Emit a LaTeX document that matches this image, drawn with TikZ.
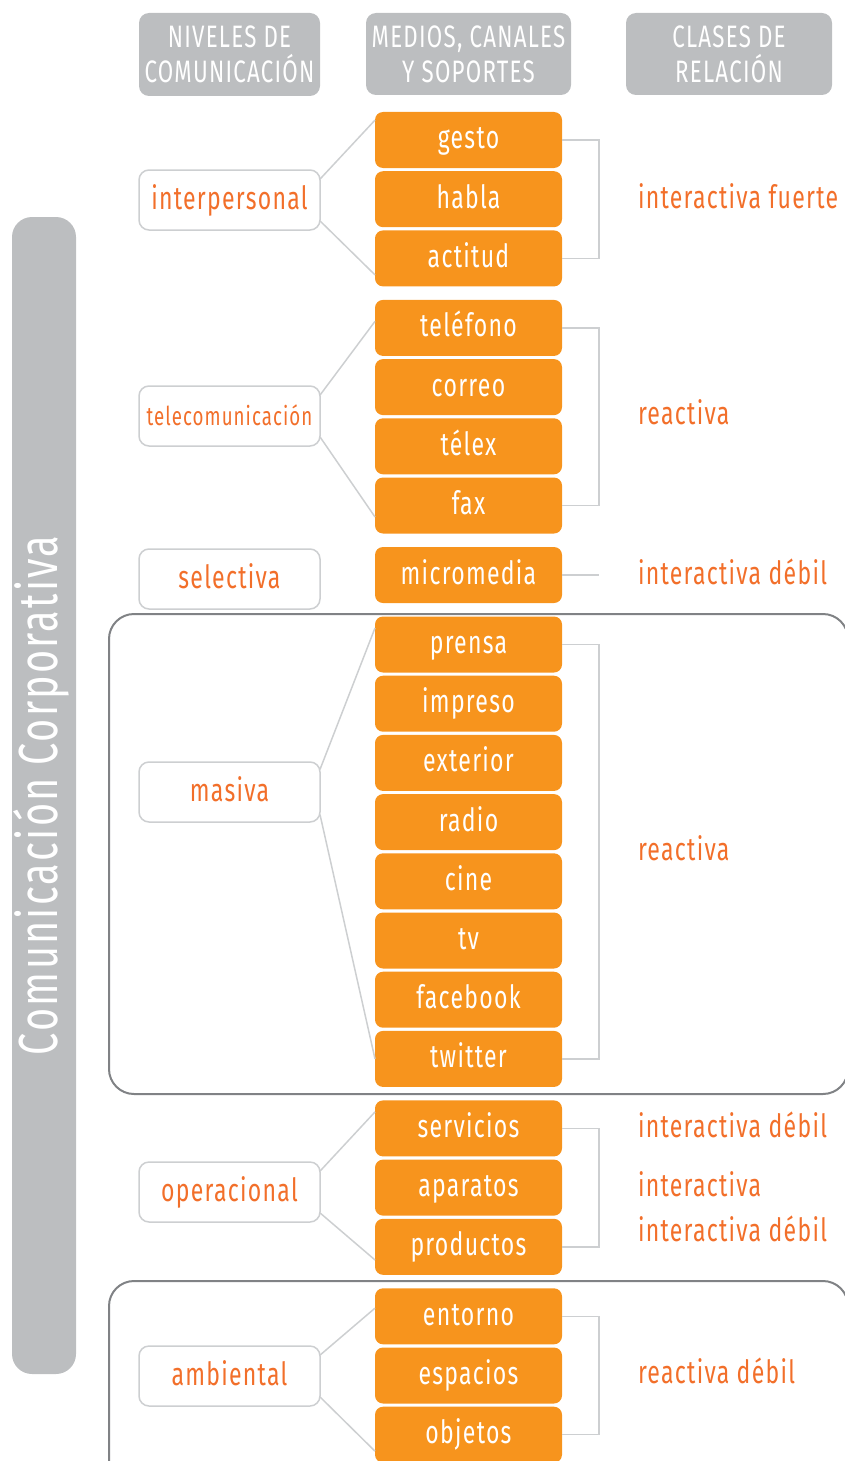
\documentclass[tikz,border=0pt]{standalone}
\usepackage{fontspec}
\setmainfont{Fira Sans}[FakeStretch=0.72, LetterSpace=4]
\usetikzlibrary{positioning,calc}
\definecolor{naranja}{HTML}{F7941D}
\definecolor{rojizo}{HTML}{F26F2A}
\definecolor{gris}{HTML}{BCBEC0}
\definecolor{grisclaro}{HTML}{CDCFD1}
\definecolor{grisoscuro}{HTML}{808285}

\begin{document}
\begin{tikzpicture}[x=1pt,y=1pt,node distance=3.2pt,outer sep=0pt]
  \tikzstyle{medio}=[fill=naranja, rounded corners=8pt, minimum width=187pt, minimum height=56pt, inner sep=0pt, text=white, text height=24pt, text depth=6pt, font=\fontsize{32}{32}\selectfont]
  \tikzstyle{nivel}=[draw=grisclaro, line width=1.5pt, fill=white, rounded corners=10pt, minimum width=181pt, minimum height=60pt, inner sep=0pt, text=rojizo, text height=24pt, text depth=6pt, font=\fontsize{32}{32}\selectfont]
  \tikzstyle{cabecera}=[fill=gris, rounded corners=10pt, inner sep=0pt, text=white, align=center, font=\fontsize{31}{35}\selectfont]
  \tikzstyle{clase}=[anchor=west, inner sep=0pt, text=rojizo, text height=24pt, text depth=6pt, font=\fontsize{32}{32}\selectfont]
  \tikzstyle{enlace}=[draw=grisclaro, line width=1.5pt]
  \tikzstyle{grupo}=[draw=grisoscuro, line width=2pt, rounded corners=25pt]
  \useasboundingbox (0,0) rectangle (844,-1461);

  % cabeceras
  \node[cabecera, minimum width=181pt, minimum height=83pt] (hniv) at (229.5,-54.5) {NIVELES DE\\COMUNICACIÓN};
  \node[cabecera, minimum width=205pt, minimum height=82pt] (hmed) at (468.5,-54) {MEDIOS, CANALES\\Y SOPORTES};
  \node[cabecera, minimum width=206pt, minimum height=82pt] (hcla) at (729,-54) {CLASES DE\\RELACIÓN};

  % barra lateral
  \node[fill=gris, rounded corners=20pt, rotate=90, minimum width=1157pt, minimum height=64pt, inner sep=0pt, text=white, text height=38pt, text depth=12pt, font=\fontsize{55}{55}\selectfont] (corp) at (44,-795.5) {Comunicación Corporativa};

  % grupos
  \draw[grupo] (109,-614) rectangle (848,-1094);
  \draw[grupo] (109,-1281) rectangle (848,-1490);

  % medios
  \node[medio] (gesto) at (468.5,-140) {gesto};
  \node[medio, below=of gesto] (habla) {habla};
  \node[medio, below=of habla] (actitud) {actitud};
  \node[medio, below=13.5pt of actitud] (telefono) {teléfono};
  \node[medio, below=of telefono] (correo) {correo};
  \node[medio, below=of correo] (telex) {télex};
  \node[medio, below=of telex] (fax) {fax};
  \node[medio, below=13.5pt of fax] (micro) {micromedia};
  \node[medio, below=13.5pt of micro] (prensa) {prensa};
  \node[medio, below=of prensa] (impreso) {impreso};
  \node[medio, below=of impreso] (exterior) {exterior};
  \node[medio, below=of exterior] (radio) {radio};
  \node[medio, below=of radio] (cine) {cine};
  \node[medio, below=of cine] (tv) {tv};
  \node[medio, below=of tv] (facebook) {facebook};
  \node[medio, below=of facebook] (twitter) {twitter};
  \node[medio, below=13.5pt of twitter] (servicios) {servicios};
  \node[medio, below=of servicios] (aparatos) {aparatos};
  \node[medio, below=of aparatos] (productos) {productos};
  \node[medio, below=13.5pt of productos] (entorno) {entorno};
  \node[medio, below=of entorno] (espacios) {espacios};
  \node[medio, below=of espacios] (objetos) {objetos};

  % niveles
  \node[nivel] (inter) at (229.5,-200) {interpersonal};
  \node[nivel, font=\fontsize{26}{26}\selectfont] (tele) at (229.5,-416) {telecomunicación};
  \node[nivel] (selec) at (229.5,-579) {selectiva};
  \node[nivel] (masiva) at (229.5,-792) {masiva};
  \node[nivel] (operac) at (229.5,-1192) {operacional};
  \node[nivel] (ambien) at (229.5,-1376) {ambiental};

  % clases de relacion
  \node[clase] (c1) at (638,-199) {interactiva fuerte};
  \node[clase] (c2) at (638,-415) {reactiva};
  \node[clase] (c3) at (638,-575) {interactiva débil};
  \node[clase] (c4) at (638,-851) {reactiva};
  \node[clase] (c5) at (638,-1128) {interactiva débil};
  \node[clase] (c6) at (638,-1187) {interactiva};
  \node[clase] (c7) at (638,-1232) {interactiva débil};
  \node[clase] (c8) at (638,-1374) {reactiva débil};

  % enlaces
  \draw[enlace] (inter.13) -- (gesto.168) (inter.-13) -- (actitud.190);
  \draw[enlace] (tele.13) -- (telefono.176) (tele.-13) -- (fax.187);
  \draw[enlace] (masiva.14) -- (prensa.170) (masiva.-14) -- (twitter.180);
  \draw[enlace] (operac.13) -- (servicios.170) (operac.-13) -- (productos.188);
  \draw[enlace] (ambien.13) -- (entorno.175) (ambien.-13) -- (objetos.190);

  % corchetes
  \draw[enlace] (gesto.east) -- ++(37,0) |- (actitud.east);
  \draw[enlace] (telefono.east) -- ++(37,0) |- (fax.east);
  \draw[enlace] (micro.east) -- ++(37,0);
  \draw[enlace] (prensa.east) -- ++(37,0) |- (twitter.east);
  \draw[enlace] (servicios.east) -- ++(37,0) |- (productos.east);
  \draw[enlace] (entorno.east) -- ++(37,0) |- (objetos.east);
\end{tikzpicture}
\end{document}
